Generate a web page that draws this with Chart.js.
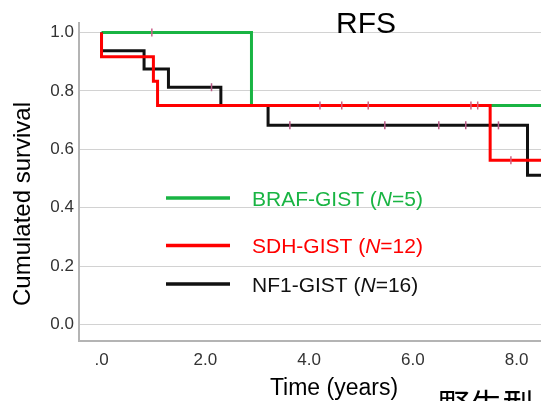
<!DOCTYPE html>
<html>
<head>
<meta charset="utf-8">
<script src="https://cdn.jsdelivr.net/npm/chart.js@4"></script>
<style>
html,body{margin:0;padding:0;background:#fff;}
#wrap{width:541px;height:401px;position:relative;}
</style>
</head>
<body>
<div id="wrap"><canvas id="c" width="541" height="401"></canvas></div>
<script>
// ---- data ----
const xTicks = [0, 2, 4, 6, 8];
const yTicks = [0, 0.2, 0.4, 0.6, 0.8, 1.0];

const brafTimes = [0, 2.89, 8.8];
const brafSurv  = [1.0, 0.75, 0.75];
const brafCens  = [0.97, 4.21];

const sdhTimes = [0, 0, 1.00, 1.08, 7.49, 8.8];
const sdhSurv  = [1.0, 0.917, 0.833, 0.75, 0.5625, 0.5625];
const sdhCens  = [4.63, 5.14, 7.12, 7.25, 7.89];

const nf1Times = [0, 0, 0.82, 1.29, 2.30, 3.21, 8.21, 8.8];
const nf1Surv  = [1.0, 0.9375, 0.875, 0.8125, 0.75, 0.682, 0.511, 0.511];
const nf1Cens  = [2.12, 3.63, 5.46, 6.50, 7.02, 7.65];

const legendItems = [
  {pre: 'BRAF-GIST (', n: 'N', post: '=5)', color: '#19b443'},
  {pre: 'SDH-GIST (', n: 'N', post: '=12)', color: '#ff0000'},
  {pre: 'NF1-GIST (', n: 'N', post: '=16)', color: '#111111'}
];

// ---- helpers ----
function steps(times, surv) {
  const pts = [];
  for (let i = 0; i < times.length; i++) {
    if (i > 0) pts.push({x: times[i], y: surv[i - 1]});
    pts.push({x: times[i], y: surv[i]});
  }
  return pts;
}
function survAt(times, surv, t) {
  let s = surv[0];
  for (let i = 0; i < times.length; i++) if (times[i] <= t) s = surv[i];
  return s;
}
function censPts(times, surv, cens) {
  return cens.map(t => ({x: t, y: survAt(times, surv, t)}));
}

const FONT = '"Liberation Sans", Arial, sans-serif';
Chart.defaults.font.family = FONT;

const lineDs = (label, data, color) => ({
  type: 'line', label, data, borderColor: color, backgroundColor: color,
  borderWidth: 3, pointRadius: 0, tension: 0, fill: false
});
const censDs = (label, data, color) => ({
  type: 'scatter', label, data, borderColor: color, backgroundColor: color,
  pointStyle: 'line', rotation: 90, pointRadius: 4, borderWidth: 1.5, showLine: false
});

const textPlugin = {
  id: 'texts',
  afterDraw(chart) {
    const ctx = chart.ctx;
    ctx.save();
    // title
    ctx.fillStyle = '#000';
    ctx.font = '30px ' + FONT;
    ctx.textAlign = 'center';
    ctx.textBaseline = 'alphabetic';
    ctx.fillText('RFS', 366, 33);
    // legend
    const ys = [198, 245.5, 284];
    legendItems.forEach((it, i) => {
      const y = ys[i];
      ctx.strokeStyle = it.color;
      ctx.lineWidth = 3.5;
      ctx.beginPath(); ctx.moveTo(166, y); ctx.lineTo(230, y); ctx.stroke();
      ctx.fillStyle = it.color;
      ctx.textAlign = 'left';
      ctx.textBaseline = 'alphabetic';
      let x = 252; const by = y + 7.5;
      ctx.font = '21px ' + FONT;
      ctx.fillText(it.pre, x, by); x += ctx.measureText(it.pre).width;
      ctx.font = 'italic 21px ' + FONT;
      ctx.fillText(it.n, x, by); x += ctx.measureText(it.n).width;
      ctx.font = '21px ' + FONT;
      ctx.fillText(it.post, x, by);
    });
    // axis titles
    ctx.fillStyle = '#000';
    ctx.font = '23px ' + FONT;
    ctx.textAlign = 'center';
    ctx.fillText('Time (years)', 334, 395);
    ctx.save();
    ctx.translate(30, 204);
    ctx.rotate(-Math.PI / 2);
    ctx.font = '24px ' + FONT;
    ctx.textBaseline = 'alphabetic';
    ctx.fillText('Cumulated survival', 0, 0);
    ctx.restore();
    // cropped caption at bottom right
    ctx.fillStyle = '#000';
    ctx.font = '32px "Noto Sans CJK SC"';
    ctx.textAlign = 'left';
    ctx.textBaseline = 'top';
    ctx.fillText('野生型', 438, 389);
    ctx.restore();
  }
};

function noPad(s) { s.paddingLeft = 0; s.paddingRight = 0; s.paddingTop = 0; s.paddingBottom = 0; }

new Chart(document.getElementById('c'), {
  data: {
    datasets: [
      censDs('SDH censored', censPts(sdhTimes, sdhSurv, sdhCens), '#d2607e'),
      censDs('NF1 censored', censPts(nf1Times, nf1Surv, nf1Cens), '#b85a86'),
      censDs('BRAF censored', censPts(brafTimes, brafSurv, brafCens), '#c9608a'),
      lineDs('SDH-GIST', steps(sdhTimes, sdhSurv), '#ff0000'),
      lineDs('NF1-GIST', steps(nf1Times, nf1Surv), '#111111'),
      lineDs('BRAF-GIST', steps(brafTimes, brafSurv), '#19b443')
    ]
  },
  plugins: [textPlugin],
  options: {
    responsive: false,
    animation: false,
    events: [],
    layout: {autoPadding: false, padding: {top: 23, right: 0, left: 0, bottom: 0}},
    plugins: {legend: {display: false}, tooltip: {enabled: false}, title: {display: false}},
    scales: {
      x: {
        type: 'linear', min: -0.434, max: 8.47,
        afterBuildTicks: s => { s.ticks = xTicks.map(v => ({value: v})); },
        afterFit: s => { s.height = 60; noPad(s); },
        grid: {display: false, drawTicks: false},
        border: {display: true, color: '#b4b4b4', width: 2},
        ticks: {
          padding: 9, color: '#333', font: {size: 17},
          callback: v => v === 0 ? '.0' : v.toFixed(1)
        }
      },
      y: {
        type: 'linear', min: -0.0565, max: 1.0325,
        afterBuildTicks: s => { s.ticks = yTicks.map(v => ({value: v})); },
        afterFit: s => { s.width = 79; noPad(s); },
        grid: {display: true, drawTicks: false, color: '#d2d2d2', lineWidth: 1},
        border: {display: true, color: '#b4b4b4', width: 2},
        ticks: {
          padding: 5, color: '#333', font: {size: 17},
          callback: v => v.toFixed(1)
        }
      }
    }
  }
});
</script>
</body>
</html>
